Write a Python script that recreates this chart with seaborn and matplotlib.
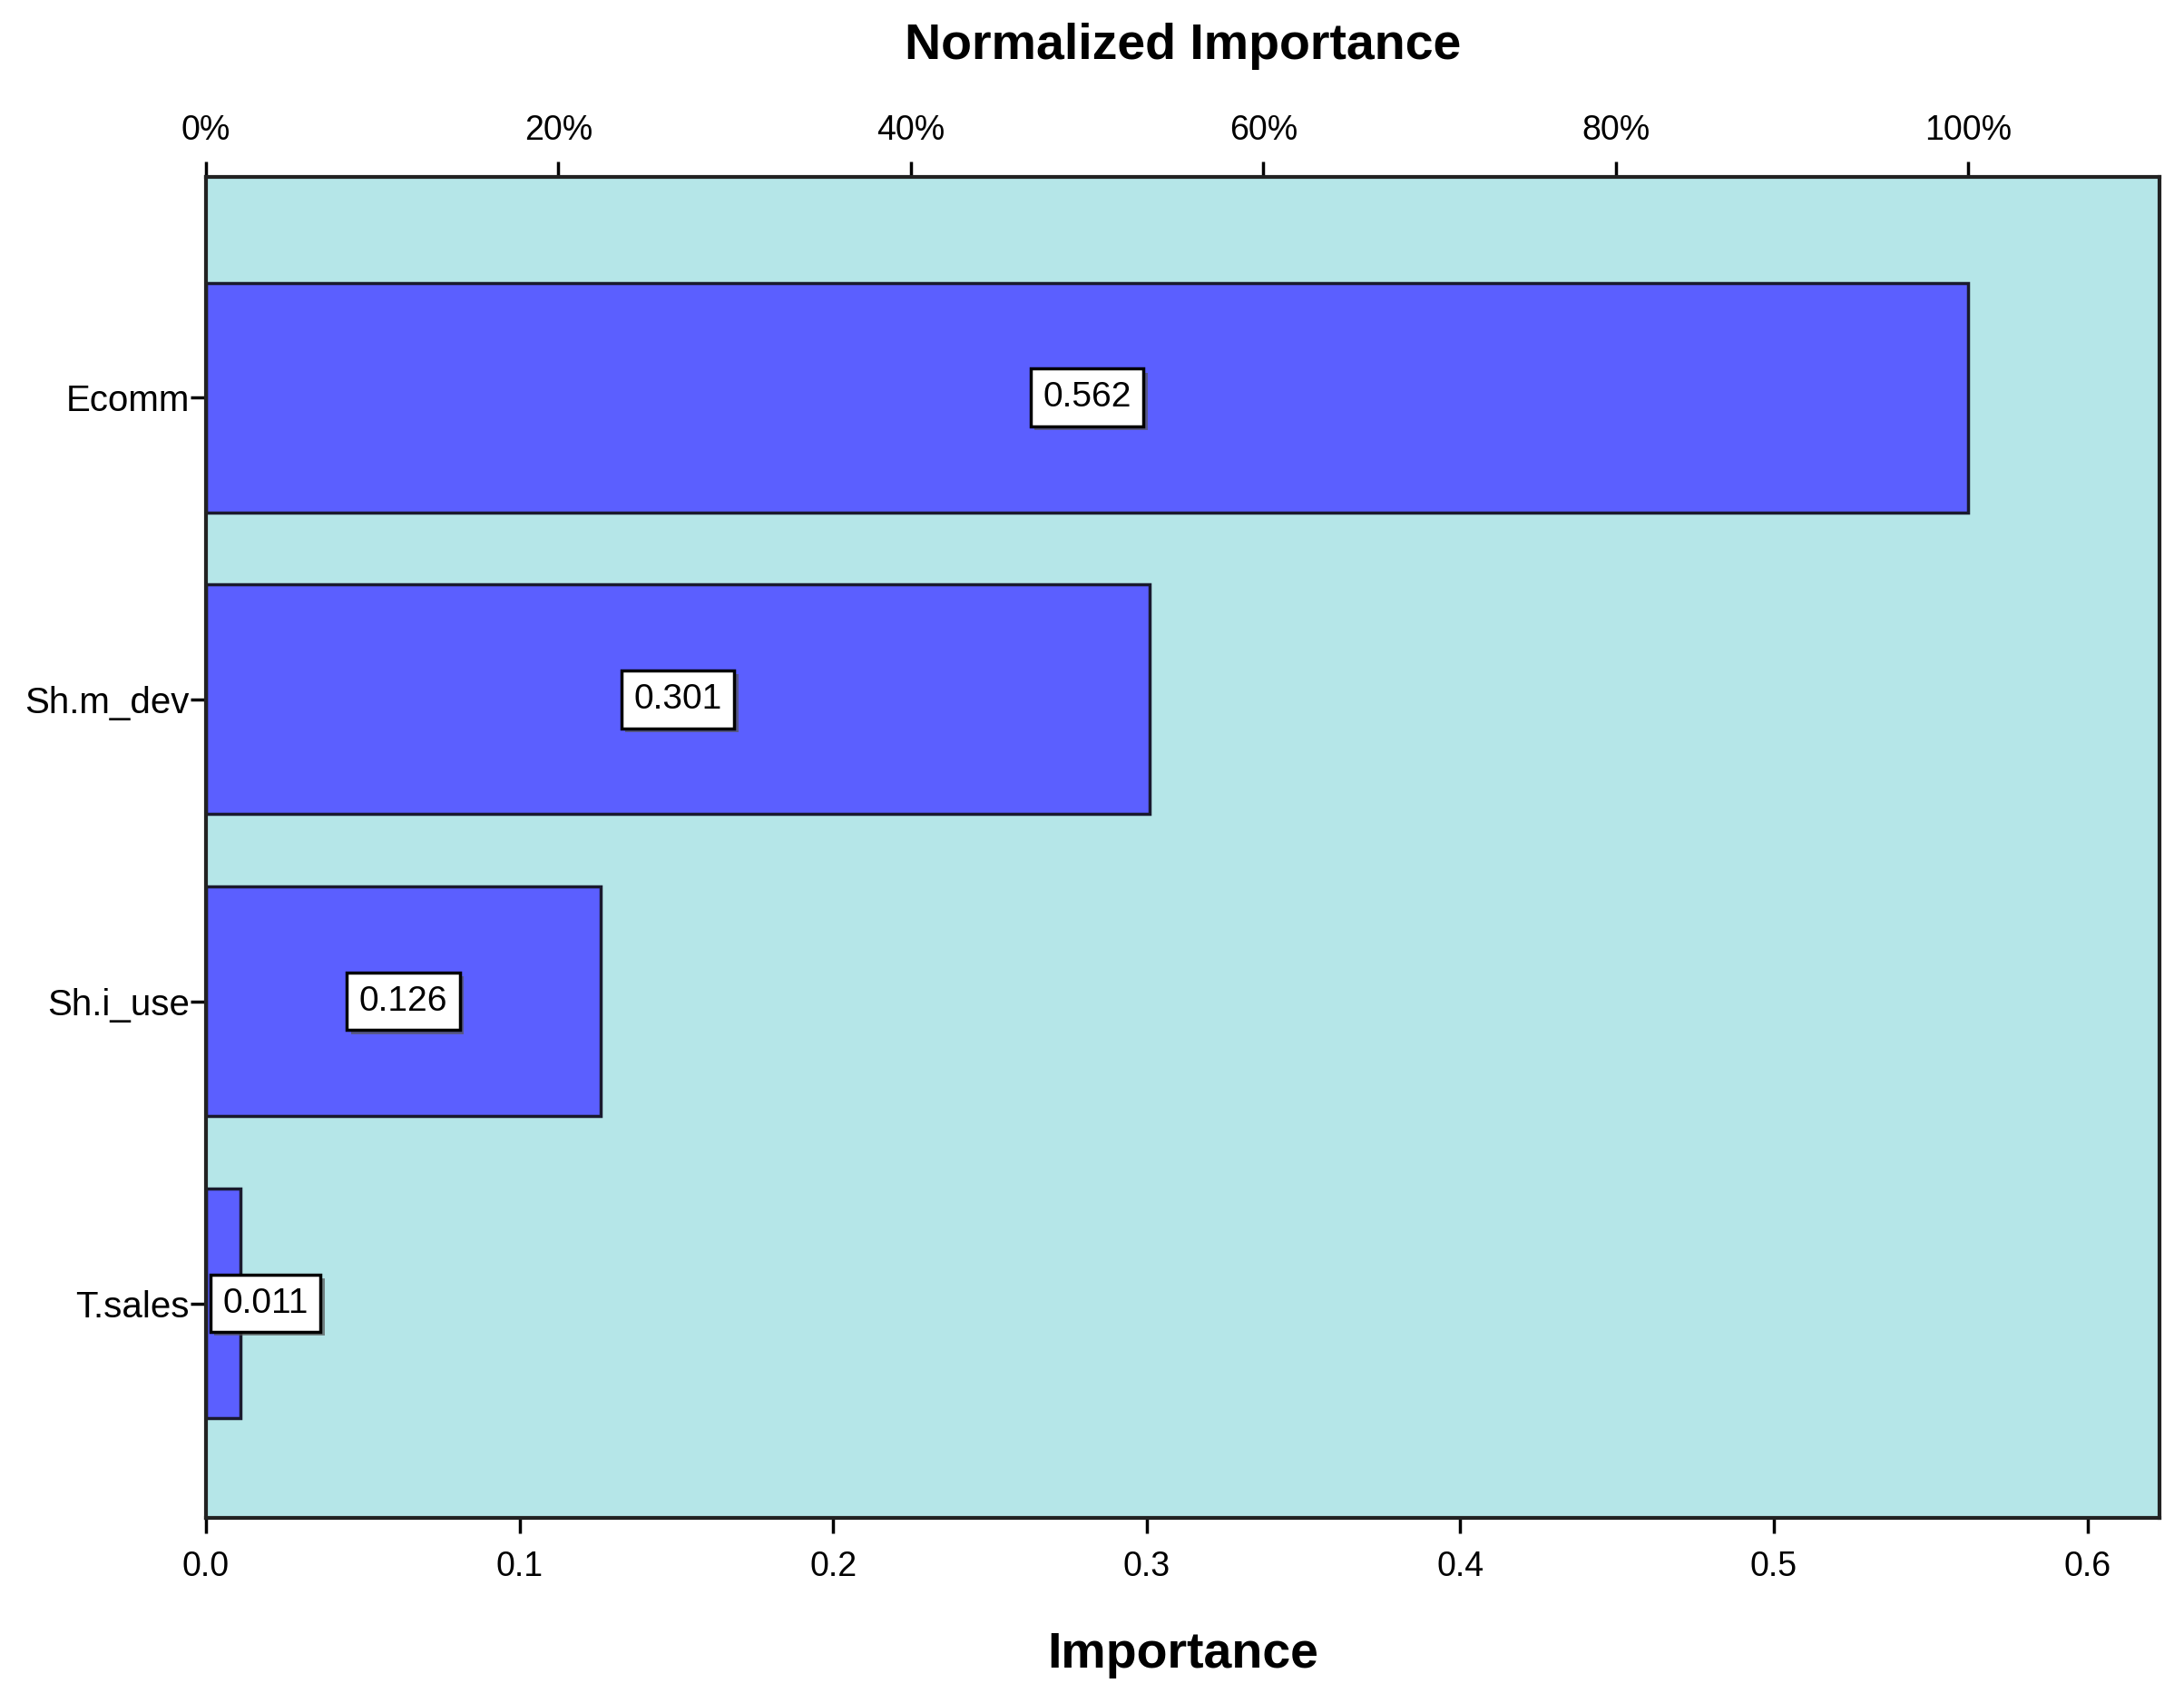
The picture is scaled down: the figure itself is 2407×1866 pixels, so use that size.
import matplotlib
matplotlib.use("Agg")
import matplotlib.pyplot as plt
import matplotlib.patheffects as pe
import seaborn as sns
import pandas as pd

# Data
features = ["Ecomm", "Sh.m_dev", "Sh.i_use", "T.sales"]
importance = [0.562, 0.301, 0.126, 0.011]
x_ticks = [0.0, 0.1, 0.2, 0.3, 0.4, 0.5, 0.6]
pct_ticks = [0, 20, 40, 60, 80, 100]

sns.set_style("white")
plt.rcParams['font.family'] = ['Liberation Sans', 'DejaVu Sans']
plt.rcParams['text.color'] = 'black'
plt.rcParams['axes.labelcolor'] = 'black'
plt.rcParams['xtick.color'] = 'black'
plt.rcParams['ytick.color'] = 'black'

df = pd.DataFrame({"feature": features, "importance": importance})
max_imp = max(importance)

fig = plt.figure(figsize=(24.07, 18.66), dpi=100)
ax = fig.add_axes([0.0943, 0.1034, 0.8945, 0.7921])
ax.set_facecolor("#b5e6e8")

sns.barplot(data=df, x="importance", y="feature", orient="h", ax=ax,
            color="#5b5fff", saturation=1, width=0.76,
            edgecolor="#1a1a2e", linewidth=2.5)

ax.set_xlim(0, 0.623)
ax.set_ylim(3.71, -0.73)
ax.set_xticks(x_ticks)
ax.set_xticklabels([f"{t:.1f}" for t in x_ticks])
ax.set_xlabel("Importance", fontsize=40, fontweight="bold", labelpad=38)
ax.set_ylabel("")
ax.tick_params(axis="x", direction="out", length=12, width=2.5, labelsize=27, pad=14, bottom=True)
ax.tick_params(axis="y", direction="out", length=12, width=2.5, labelsize=29, pad=1, left=True)

for s in ax.spines.values():
    s.set_color("#222222")
    s.set_linewidth(3)

# top percent axis
sec = ax.secondary_xaxis("top", functions=(lambda x: x / max_imp * 100,
                                            lambda p: p * max_imp / 100))
sec.set_xticks(pct_ticks)
sec.set_xticklabels([f"{p}%" for p in pct_ticks])
sec.tick_params(direction="out", length=12, width=2.5, labelsize=27, pad=12)
sec.set_xlabel("Normalized Importance", fontsize=40, fontweight="bold", labelpad=44)

# value labels in boxes
for i, v in enumerate(importance):
    xpos = max(v / 2, 0.019)
    t = ax.text(xpos, i, f"{v:.3f}", ha="center", va="center", fontsize=28,
                bbox=dict(boxstyle="square,pad=0.35", facecolor="white",
                          edgecolor="black", linewidth=2.5))
    t.get_bbox_patch().set_path_effects([
        pe.SimplePatchShadow(offset=(3, -3), shadow_rgbFace="#555555", alpha=0.7),
        pe.Normal()])

fig.savefig("out.png", dpi=100, facecolor="white")
